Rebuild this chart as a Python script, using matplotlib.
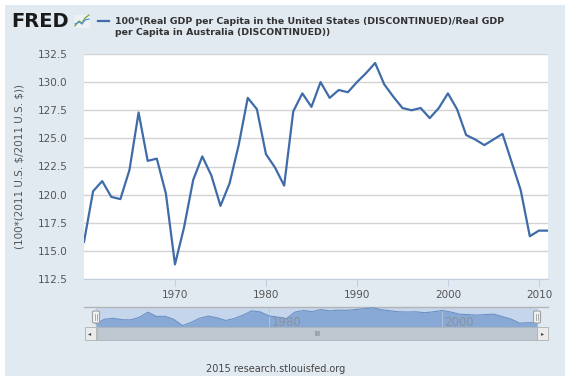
import matplotlib
matplotlib.use("Agg")
import matplotlib.pyplot as plt
from matplotlib.patches import Rectangle, FancyBboxPatch
from matplotlib.lines import Line2D

years = list(range(1960, 2012))
values = [115.8, 120.3, 121.2, 119.8, 119.6, 122.2, 127.3, 123.0, 123.2, 120.1,
          113.8, 117.1, 121.3, 123.4, 121.7, 119.0, 121.0, 124.4, 128.6, 127.6,
          123.6, 122.4, 120.8, 127.4, 129.0, 127.8, 130.0, 128.6, 129.3, 129.1,
          130.0, 130.8, 131.7, 129.8, 128.7, 127.7, 127.5, 127.7, 126.8, 127.7,
          129.0, 127.6, 125.3, 124.9, 124.4, 124.9, 125.4, 122.9, 120.4, 116.3,
          116.8, 116.8]
y_ticks = [112.5, 115.0, 117.5, 120.0, 122.5, 125.0, 127.5, 130.0, 132.5]
x_ticks = [1970, 1980, 1990, 2000, 2010]
nav_ticks = [1980, 2000]
title = ("100*(Real GDP per Capita in the United States (DISCONTINUED)/Real GDP\n"
         "per Capita in Australia (DISCONTINUED))")
ylabel = r"(100*(2011 U.S. \$/2011 U.S. \$))"
footer = "2015 research.stlouisfed.org"

W, H = 570, 381
fig = plt.figure(figsize=(W / 100, H / 100), dpi=100)
fig.patch.set_facecolor("white")

def fx(px):
    return px / W

def fy(py):
    return 1 - py / H

BG = "#e1e9f1"
LINE = "#3f6ca8"
TXT = "#555555"

# outer panel
fig.patches.append(Rectangle((fx(5), fy(376)), fx(560), 371 / H, transform=fig.transFigure,
                             facecolor=BG, edgecolor="none", zorder=-5))

# main axes
ax = fig.add_axes([fx(84), fy(279), fx(548 - 84), (279 - 54) / H])
ax.set_zorder(1)
ax.set_facecolor("white")
ax.plot(years, values, color=LINE, lw=1.6, solid_joinstyle="round", zorder=3)
ax.set_xlim(1960, 2011)
ax.set_ylim(112.5, 132.5)
ax.set_yticks(y_ticks)
ax.set_yticklabels([f"{v:.1f}" for v in y_ticks])
ax.set_xticks(x_ticks)
ax.yaxis.grid(True, color="#d3d3d3", lw=1.0)
ax.set_axisbelow(True)
for s in ax.spines.values():
    s.set_visible(False)
ax.spines["bottom"].set_visible(True)
ax.spines["bottom"].set_color("#c0d0e0")
ax.tick_params(axis="y", length=0, pad=12, labelsize=7.5, labelcolor=TXT)
ax.tick_params(axis="x", length=5, color="#c0d0e0", pad=3, labelsize=7.5, labelcolor=TXT)
ax.set_ylabel(ylabel, fontsize=7.5, color=TXT, labelpad=10)
ax.yaxis.set_label_coords(fx(25 - 84) / fx(548 - 84), 0.5)

# navigator
nav = fig.add_axes([fx(84), fy(327), fx(548 - 84), (327 - 307) / H])
nav.set_zorder(1)
nav.set_facecolor(BG)
ppy = (537 - 96) / 51
nav.set_xlim(1960 - 12 / ppy, 2011 + 11 / ppy)
nav.set_ylim(112.5, 132.5)
nav.axvspan(1960, 2011, color="#c5d6ec", zorder=1)
nav.fill_between(years, values, 112.5, color="#88a9d5", lw=0, zorder=2)
nav.plot(years, values, color="#6c90c4", lw=0.8, zorder=3)
for t in nav_ticks:
    nav.axvline(t, color="#b8c8dc", lw=0.6, zorder=2.5)
    nav.text(t + 0.3, 117.3, str(t), fontsize=8.5, color="#8a929c",
             ha="left", va="center", zorder=4)
nav.set_xticks([])
nav.set_yticks([])
for s in nav.spines.values():
    s.set_visible(False)
nav.spines["top"].set_visible(True)
nav.spines["top"].set_color("#b5b5b8")
nav.spines["top"].set_linewidth(1.0)

# navigator handles
for hx in (96, 537):
    fig.patches.append(FancyBboxPatch((fx(hx - 3.5), fy(323)), fx(7), 12 / H,
                                      boxstyle="round,pad=0,rounding_size=0.003",
                                      transform=fig.transFigure, facecolor="#f2f2f2",
                                      edgecolor="#a0a0a0", lw=0.8, zorder=10))
    for dx in (-1, 1):
        fig.lines.append(Line2D([fx(hx + dx), fx(hx + dx)], [fy(320), fy(314)],
                                transform=fig.transFigure, color="#a0a0a0", lw=0.6, zorder=11))

# scrollbar
fig.patches.append(Rectangle((fx(97), fy(339.5)), fx(537 - 97), 12.5 / H, transform=fig.transFigure,
                             facecolor="#bfc7d0", edgecolor="#aab2bb", lw=0.6, zorder=5))
for bx in (84.5, 537):
    fig.patches.append(Rectangle((fx(bx), fy(339.5)), fx(11), 12.5 / H, transform=fig.transFigure,
                                 facecolor="#ebebeb", edgecolor="#b0b0b0", lw=0.6, zorder=6))
fig.text(fx(90), fy(333.5), "◂", fontsize=4.5, color="#444444", ha="center", va="center", zorder=7)
fig.text(fx(542.5), fy(333.5), "▸", fontsize=4.5, color="#444444", ha="center", va="center", zorder=7)
fig.text(fx(317), fy(333.5), "III", fontsize=5, color="#666666", ha="center", va="center", zorder=7)

# header
fig.text(fx(11), fy(21.5), "FRED", fontsize=14, fontweight="heavy", color="#1a1a1a",
         ha="left", va="center")
fig.patches.append(Rectangle((fx(74), fy(28)), fx(16), 13 / H, transform=fig.transFigure,
                             facecolor="#eef1f4", edgecolor="none", zorder=3))
fig.lines.append(Line2D([fx(75), fx(79), fx(82), fx(85), fx(89)],
                        [fy(26), fy(21), fy(23), fy(18), fy(15)],
                        transform=fig.transFigure, color="#6aaa3c", lw=0.9, zorder=4))
fig.lines.append(Line2D([fx(75), fx(79), fx(82), fx(85), fx(89)],
                        [fy(24), fy(22), fy(24), fy(20), fy(19)],
                        transform=fig.transFigure, color="#5b8fd0", lw=0.9, zorder=4))
fig.lines.append(Line2D([fx(98), fx(109)], [fy(21), fy(21)], transform=fig.transFigure,
                        color=LINE, lw=1.6))
fig.text(fx(115), fy(27), title, fontsize=6.75, fontweight="bold", color="#333333",
         ha="left", va="center", linespacing=1.3)

# footer
fig.text(fx(276), fy(369), footer, fontsize=7, color="#444444", ha="center", va="center")

fig.savefig("out.png", dpi=100, facecolor=fig.get_facecolor())
